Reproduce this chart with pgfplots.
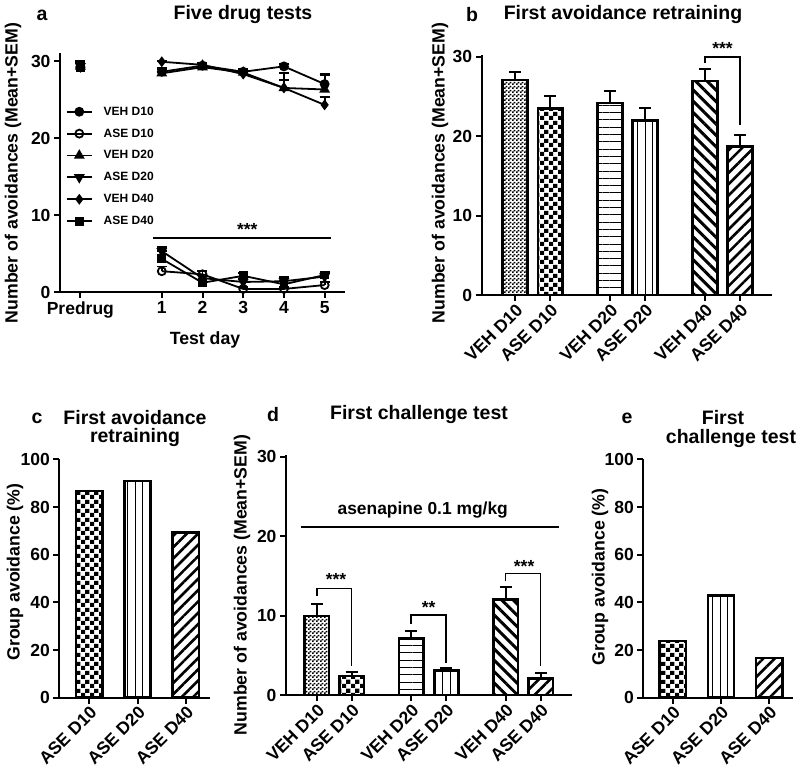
\documentclass[border=0pt]{standalone}
\usepackage{fontspec}
\setmainfont{Liberation Sans}
\usepackage{pgfplots}
\pgfplotsset{compat=1.18}
\usetikzlibrary{patterns,patterns.meta}

% checker fills, coarse and fine
\pgfdeclarepatternformonly{bigcheck}{\pgfqpoint{0pt}{0pt}}{\pgfqpoint{9pt}{9pt}}{\pgfqpoint{9pt}{9pt}}{%
  \pgfpathrectangle{\pgfqpoint{0pt}{0pt}}{\pgfqpoint{4.5pt}{4.5pt}}%
  \pgfpathrectangle{\pgfqpoint{4.5pt}{4.5pt}}{\pgfqpoint{4.5pt}{4.5pt}}%
  \pgfusepath{fill}}
\pgfdeclarepatternformonly{smallcheck}{\pgfqpoint{0pt}{0pt}}{\pgfqpoint{4pt}{4pt}}{\pgfqpoint{4pt}{4pt}}{%
  \pgfpathrectangle{\pgfqpoint{0pt}{0pt}}{\pgfqpoint{2pt}{2pt}}%
  \pgfpathrectangle{\pgfqpoint{2pt}{2pt}}{\pgfqpoint{2pt}{2pt}}%
  \pgfusepath{fill}}

\newcommand\tkf{\fontsize{17.5}{19}\selectfont\bfseries}
\newcommand\ttf{\fontsize{19.5}{22}\selectfont\bfseries}
\newcommand\lbf{\fontsize{17.7}{20}\selectfont\bfseries}
\newcommand\lgf{\fontsize{12}{13}\selectfont\bfseries}

\pgfplotsset{
  gp/.style={scale only axis, anchor=south west, clip=false,
    axis x line*=bottom, axis y line*=left,
    axis line style={line width=2pt},
    every tick/.style={black, line width=2pt},
    major tick length=6pt, tick align=outside,
    tick label style={font=\tkf},
    ymin=0},
  bars/.style={gp, ybar, bar width=#1,
    xticklabel style={rotate=45, anchor=north east, inner sep=1pt},
    every axis plot/.append style={draw=black, line width=2.5pt, bar shift=0pt}},
  eb/.style={error bars/.cd, y dir=plus, y explicit,
    error bar style={line width=2pt, black},
    error mark options={black, rotate=90, mark size=6pt, line width=2pt},
    /pgfplots/.cd},
  ln/.style={black, line width=1.8pt, mark size=4pt,
    error bars/.cd, y dir=plus, y explicit,
    error bar style={line width=1.8pt, black},
    error mark options={black, rotate=90, mark size=5pt, line width=1.8pt},
    /pgfplots/.cd},
  hl/.style={pattern={Lines[angle=0,distance=7.3pt,line width=1pt]}},
  vl/.style={pattern={Lines[angle=90,distance=7.5pt,line width=1pt]}},
  bsl/.style={pattern={Lines[angle=-45,distance=8pt,line width=3pt]}},
  fsl/.style={pattern={Lines[angle=45,distance=8pt,line width=2.6pt]}},
}

\begin{document}
\begin{tikzpicture}
\path[use as bounding box] (0,0) rectangle (800pt,777pt);

% ---- a: five drug tests
\begin{axis}[gp, at={(60pt,485pt)}, width=285pt, height=238.7pt,
  xmin=-1.5, xmax=5.5, ymax=31, ytick={0,10,20,30}, yticklabels={0,10,20,30},
  xtick={-1,1,2,3,4,5}, xticklabels={Predrug,1,2,3,4,5},
  unbounded coords=jump,
  legend style={draw=none, fill=none, font=\lgf, at={(0.02,0.785)}, anchor=north west, row sep=8pt, inner sep=0pt,
    /tikz/every odd column/.append style={column sep=9pt}},
  legend cell align=left,
  legend image code/.code={\draw[mark repeat=2,mark phase=2,#1] plot coordinates {(0pt,0pt) (12.5pt,0pt) (25pt,0pt)};}]
\addplot[ln, mark=*] coordinates {(-1,29.2) +- (0,0.8) (0,nan) (1,28.6) +- (0,0.5) (2,29.4) +- (0,0.3) (3,28.6) +- (0,0.4) (4,29.3) +- (0,0.3) (5,27.0) +- (0,1.2)};
\addlegendentry{VEH D10}
\addplot[ln, mark=o, mark options={fill=white, line width=1.8pt}] coordinates {(-1,29.2) +- (0,0.7) (0,nan) (1,2.7) +- (0,0.6) (2,2.3) +- (0,0.4) (3,0.4) +- (0,0.3) (4,0.4) +- (0,0.3) (5,0.9) +- (0,0.4)};
\addlegendentry{ASE D10}
\addplot[ln, mark=triangle*, mark size=4.5pt] coordinates {(-1,29.3) +- (0,0.6) (0,nan) (1,28.4) +- (0,0.6) (2,29.2) +- (0,0.4) (3,28.5) +- (0,0.4) (4,26.5) +- (0,1.9) (5,26.3) +- (0,2.0)};
\addlegendentry{VEH D20}
\addplot[ln, mark=triangle*, mark size=4.5pt, mark options={rotate=180}] coordinates {(-1,29.3) +- (0,0.6) (0,nan) (1,5.3) +- (0,0.5) (2,1.8) +- (0,0.4) (3,1.3) +- (0,0.4) (4,1.4) +- (0,0.5) (5,2.0) +- (0,0.5)};
\addlegendentry{ASE D20}
\addplot[ln, mark=diamond*] coordinates {(-1,29.2) +- (0,0.5) (0,nan) (1,29.9) +- (0,0.1) (2,29.5) +- (0,0.3) (3,28.3) +- (0,0.5) (4,26.5) +- (0,1.0) (5,24.3) +- (0,1.0)};
\addlegendentry{VEH D40}
\addplot[ln, mark=square*, mark size=3.5pt] coordinates {(-1,29.1) +- (0,0.8) (0,nan) (1,4.3) +- (0,1.0) (2,1.2) +- (0,0.4) (3,2.1) +- (0,0.4) (4,1.0) +- (0,0.5) (5,2.2) +- (0,0.4)};
\addlegendentry{ASE D40}
\draw[line width=1.8pt] (axis cs:0.78,7) -- (axis cs:5.15,7);
\node[font=\tkf, anchor=base, yshift=-10pt] at (axis cs:3.1,8.7) {***};
\end{axis}

% ---- b: first avoidance retraining
\begin{axis}[bars=0.71, at={(481.7pt,482pt)}, width=290pt, height=239.8pt,
  xmin=-0.95, xmax=7.3, ymax=30.2, ytick={0,10,20,30}, yticklabels={0,10,20,30},
  xtick={0,1,2.7,3.7,5.4,6.4},
  xticklabels={VEH D10,ASE D10,VEH D20,ASE D20,VEH D40,ASE D40}]
\addplot[pattern=smallcheck, eb] coordinates {(0,27.1) +- (0,1.0)};
\addplot[pattern=bigcheck, eb] coordinates {(1,23.5) +- (0,1.5)};
\addplot[hl, eb] coordinates {(2.7,24.2) +- (0,1.5)};
\addplot[vl, eb] coordinates {(3.7,22.0) +- (0,1.6)};
\addplot[bsl, eb] coordinates {(5.4,26.95) +- (0,1.55)};
\addplot[fsl, eb] coordinates {(6.4,18.7) +- (0,1.5)};
\draw[line width=1.5pt] (axis cs:5.4,29.2) -- (axis cs:5.4,30.0) -- (axis cs:6.4,30.0) -- (axis cs:6.4,21.4);
\node[font=\tkf, anchor=base, yshift=-10pt] at (axis cs:5.9,31.5) {***};
\end{axis}

% ---- c: group avoidance, retraining
\begin{axis}[bars=0.545, at={(59.3pt,79.3pt)}, width=150.7pt, height=238.4pt,
  xmin=-0.62, xmax=2.5, ymax=100, ytick={0,20,40,60,80,100}, yticklabels={0,20,40,60,80,100},
  xtick={0,1,2}, xticklabels={ASE D10,ASE D20,ASE D40}]
\addplot[pattern=bigcheck] coordinates {(0,86.7)};
\addplot[vl] coordinates {(1,90.9)};
\addplot[fsl] coordinates {(2,69.2)};
\end{axis}

% ---- d: first challenge test
\begin{axis}[bars=0.70, at={(286pt,82pt)}, width=285.7pt, height=239.8pt,
  xmin=-0.88, xmax=7.29, ymax=30.2, ytick={0,10,20,30}, yticklabels={0,10,20,30},
  xtick={0,1,2.7,3.7,5.4,6.4},
  xticklabels={VEH D10,ASE D10,VEH D20,ASE D20,VEH D40,ASE D40}]
\addplot[pattern=smallcheck, eb] coordinates {(0,9.95) +- (0,1.5)};
\addplot[pattern=bigcheck, eb] coordinates {(1,2.4) +- (0,0.45)};
\addplot[hl, eb] coordinates {(2.7,7.1) +- (0,0.9)};
\addplot[vl, eb] coordinates {(3.7,3.06) +- (0,0.4)};
\addplot[bsl, eb] coordinates {(5.4,12.0) +- (0,1.55)};
\addplot[fsl, eb] coordinates {(6.4,2.1) +- (0,0.65)};
\draw[line width=1.8pt] (axis cs:-0.46,21.2) -- (axis cs:6.92,21.2);
\node[font=\fontsize{17.4}{19}\selectfont\bfseries, anchor=base, yshift=-6.5pt] at (axis cs:3.03,23.5) {asenapine 0.1 mg/kg};
\draw[line width=1.5pt] (axis cs:0,12.5) -- (axis cs:0,13.4) -- (axis cs:1,13.4) -- (axis cs:1,3.6);
\draw[line width=1.5pt] (axis cs:2.7,9.0) -- (axis cs:2.7,10.1) -- (axis cs:3.7,10.1) -- (axis cs:3.7,4.0);
\draw[line width=1.5pt] (axis cs:5.4,14.3) -- (axis cs:5.4,15.3) -- (axis cs:6.4,15.3) -- (axis cs:6.4,3.6);
\node[font=\tkf, anchor=base, yshift=-10pt] at (axis cs:0.55,15.1) {***};
\node[font=\tkf, anchor=base, yshift=-10pt] at (axis cs:3.2,11.5) {**};
\node[font=\tkf, anchor=base, yshift=-10pt] at (axis cs:5.93,16.7) {***};
\end{axis}

% ---- e: group avoidance, challenge
\begin{axis}[bars=0.545, at={(643.3pt,79.3pt)}, width=150pt, height=238.4pt,
  xmin=-0.61, xmax=2.5, ymax=100, ytick={0,20,40,60,80,100}, yticklabels={0,20,40,60,80,100},
  xtick={0,1,2}, xticklabels={ASE D10,ASE D20,ASE D40}]
\addplot[pattern=bigcheck] coordinates {(0,23.8)};
\addplot[vl] coordinates {(1,42.9)};
\addplot[fsl] coordinates {(2,16.7)};
\end{axis}

% titles, panel letters, axis labels
\node[font=\ttf] at (243pt,762pt) {Five drug tests};
\node[font=\ttf] at (42pt,762pt) {a};
\node[font=\ttf] at (623pt,762pt) {First avoidance retraining};
\node[font=\ttf] at (472pt,762pt) {b};
\node[font=\ttf] at (135pt,359pt) {First avoidance};
\node[font=\ttf] at (135pt,339pt) {retraining};
\node[font=\ttf] at (37pt,359pt) {c};
\node[font=\ttf] at (419pt,362pt) {First challenge test};
\node[font=\ttf] at (273pt,362pt) {d};
\node[font=\ttf] at (723pt,359pt) {First};
\node[font=\ttf] at (731pt,338pt) {challenge test};
\node[font=\ttf] at (627pt,359pt) {e};
\node[font=\lbf, rotate=90] at (13pt,604pt) {Number of avoidances (Mean+SEM)};
\node[font=\lbf, rotate=90] at (440pt,604pt) {Number of avoidances (Mean+SEM)};
\node[font=\lbf, rotate=90] at (15pt,205pt) {Group avoidance (\%)};
\node[font=\lbf, rotate=90] at (242pt,192pt) {Number of avoidances (Mean+SEM)};
\node[font=\lbf, rotate=90] at (600pt,200pt) {Group avoidance (\%)};
\node[font=\lbf] at (205pt,437pt) {Test day};
\end{tikzpicture}
\end{document}
